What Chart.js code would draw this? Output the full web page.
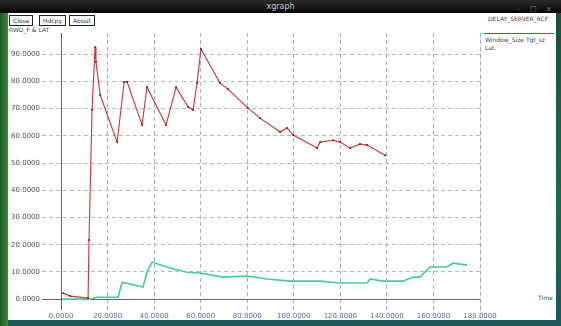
<!DOCTYPE html>
<html>
<head>
<meta charset="utf-8">
<script src="https://cdn.jsdelivr.net/npm/chart.js@4"></script>
<style>
  html, body { margin: 0; padding: 0; }
  body { width: 561px; height: 326px; position: relative; overflow: hidden;
         background: linear-gradient(180deg, #1d4f3a 0%, #1b6a4a 60%, #1a5a5a 100%);
         font-family: "DejaVu Sans", sans-serif; }
  #titlebar { position: absolute; left: 0; top: 0; width: 561px; height: 13px;
              background: linear-gradient(180deg, #2a2a2a, #050505); color: #ccc;
              font-size: 8px; line-height: 13px; text-align: center; }
  #winbtns { position: absolute; right: 6px; top: 3px; color: #888; font-size: 7px; letter-spacing: 4px; }
  #leftedge { position: absolute; left: 0; top: 13px; width: 8px; height: 313px;
              background: linear-gradient(90deg, #1f5a22, #3c8c3a); }
  #panel { position: absolute; left: 8px; top: 13px; width: 548px; height: 307px; background: #fff; }
  .btn { position: absolute; top: 2px; height: 9px; border: 1px solid #222; font-size: 6px;
         line-height: 9px; padding: 0 3px; color: #333; background: #fff; }
  .small { position: absolute; font-size: 6px; color: #445; white-space: nowrap; }
  #legline { position: absolute; left: 476px; top: 20px; width: 70px; height: 1px; background: #d03030; }
  #legsep { position: absolute; left: 472px; top: 20px; width: 1px; height: 287px; background: #e4e4ee; }
  canvas { position: absolute; left: 0; top: 0; }
</style>
</head>
<body>
<div id="titlebar">xgraph<span id="winbtns">- □ x</span></div>
<div id="leftedge"></div>
<div id="panel">
  <div class="btn" style="left:1px">Close</div>
  <div class="btn" style="left:31px">Hdcpy</div>
  <div class="btn" style="left:61px">About</div>
  <div class="small" style="left:1px; top:13px">RWD_F &amp; LAT</div>
  <div class="small" style="left:480px; top:2px">DELAY_SERVER_RCF</div>
  <div id="legsep"></div>
  <div id="legline"></div>
  <div class="small" style="left:477px; top:23px">Window_Size Tgt_sz</div>
  <div class="small" style="left:477px; top:31px">Lat.</div>
  <div class="small" style="left:530px; top:281px">Time</div>
</div>
<canvas id="c" width="561" height="326"></canvas>
<script>
// red series: window size
const redX = [0.9, 3.9, 11.6, 12.0, 13.3, 14.6, 15.0, 16.8, 24.1, 27.1, 28.4, 34.8, 36.9, 45.1, 49.4,
  54.6, 56.7, 58.4, 60.1, 68.3, 71.7, 80.3, 85.5, 94.1, 97.1, 99.7, 110.0, 111.3, 116.9, 119.9,
  124.2, 128.4, 131.5, 139.2];
const redY = [2.2, 1.1, 0.4, 21.7, 69.5, 92.6, 87.1, 75.0, 57.7, 79.8, 79.8, 64.0, 77.9, 64.0, 77.9,
  70.6, 69.5, 79.4, 91.9, 79.4, 77.2, 70.2, 66.5, 61.4, 62.9, 60.3, 55.5, 57.7, 58.4, 57.7,
  55.5, 57.0, 56.6, 52.9];

// green series: latency
const greenX = [0.4, 12.5, 15.5, 24.5, 26.2, 35.2, 36.9, 39.1, 46.8, 54.1, 59.7, 69.6, 79.9, 88.5,
  98.4, 111.3, 119.9, 131.5, 132.7, 138.3, 146.9, 151.2, 154.2, 158.5, 165.8, 168.4, 174.4];
const greenY = [0, 0, 0.7, 0.7, 6.2, 4.4, 9.9, 13.6, 11.4, 9.9, 9.6, 8.1, 8.5, 7.4,
  6.6, 6.6, 5.9, 5.9, 7.4, 6.6, 6.6, 8.1, 8.1, 11.8, 11.8, 13.2, 12.5];

const xTicks = [0, 20, 40, 60, 80, 100, 120, 140, 160, 180];
const yTicks = [0, 10, 20, 30, 40, 50, 60, 70, 80, 90];

function pts(xs, ys) {
  return xs.map((x, i) => ({ x: x, y: ys[i] }));
}

// solid zero axes like xgraph draws them
const zeroAxes = {
  id: 'zeroAxes',
  beforeDatasetsDraw(chart) {
    const ctx = chart.ctx, a = chart.chartArea;
    const x0 = chart.scales.x.getPixelForValue(0);
    const y0 = chart.scales.y.getPixelForValue(0);
    ctx.save();
    ctx.strokeStyle = '#666';
    ctx.lineWidth = 1;
    ctx.beginPath();
    ctx.moveTo(Math.round(x0) + 0.5, a.top);
    ctx.lineTo(Math.round(x0) + 0.5, a.bottom);
    ctx.moveTo(a.left, Math.round(y0) + 0.5);
    ctx.lineTo(a.right, Math.round(y0) + 0.5);
    ctx.stroke();
    ctx.restore();
  }
};

const tickFont = { family: 'DejaVu Sans', size: 7 };

new Chart(document.getElementById('c').getContext('2d'), {
  type: 'scatter',
  data: {
    datasets: [{
      label: 'Window_Size',
      data: pts(redX, redY),
      showLine: true,
      borderColor: '#d83030',
      borderWidth: 1.1,
      pointRadius: 1,
      pointBackgroundColor: '#7a1818',
      pointBorderWidth: 0
    }, {
      label: 'Lat.',
      data: pts(greenX, greenY),
      showLine: true,
      borderColor: '#3ccf9e',
      borderWidth: 1.6,
      pointRadius: 0
    }]
  },
  options: {
    responsive: false,
    animation: false,
    layout: { padding: { top: 33, right: 81, left: 0, bottom: 0 } },
    plugins: { legend: { display: false }, tooltip: { enabled: false } },
    scales: {
      x: {
        type: 'linear', min: -8.2, max: 180,
        afterBuildTicks: s => { s.ticks = xTicks.map(v => ({ value: v })); },
        afterFit: s => { s.height = 16; },
        ticks: { font: tickFont, color: '#6262a2', padding: 2, maxRotation: 0, autoSkip: false,
                 callback: v => v.toFixed(4) },
        grid: { color: '#acacc0', lineWidth: 1, drawTicks: false },
        border: { display: false, dash: [4, 3] }
      },
      y: {
        type: 'linear', min: -4, max: 97.8,
        afterBuildTicks: s => { s.ticks = yTicks.map(v => ({ value: v })); },
        afterFit: s => { s.width = 42; },
        ticks: { font: tickFont, color: '#505070', padding: 2, autoSkip: false,
                 callback: v => v.toFixed(4) },
        grid: { color: '#b8b8cc', lineWidth: 1, drawTicks: false },
        border: { display: false, dash: [4, 3] }
      }
    }
  },
  plugins: [zeroAxes]
});
</script>
</body>
</html>
